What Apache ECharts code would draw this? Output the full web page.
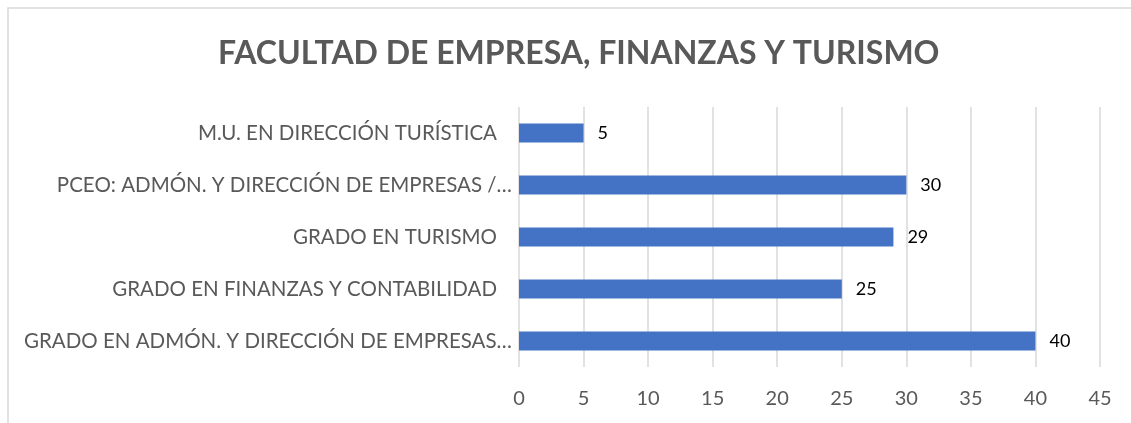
<!DOCTYPE html>
<html>
<head>
<meta charset="utf-8">
<script src="https://cdn.jsdelivr.net/npm/echarts@6/dist/echarts.min.js"></script>
<style>
  html, body { margin: 0; padding: 0; background: #fff; }
  #chart { width: 1131px; height: 423px; }
</style>
</head>
<body>
<div id="chart"></div>
<script>
// categories from bottom to top (as drawn)
var categories = [
  "GRADO EN ADMÓN. Y DIRECCIÓN DE EMPRESAS…",
  "GRADO EN FINANZAS Y CONTABILIDAD",
  "GRADO EN TURISMO",
  "PCEO: ADMÓN. Y DIRECCIÓN DE EMPRESAS /…",
  "M.U. EN DIRECCIÓN TURÍSTICA"
];
var values = [40, 25, 29, 30, 5];
var xTicks = [0, 5, 10, 15, 20, 25, 30, 35, 40, 45];

var font = "Lato";
var chart = echarts.init(document.getElementById("chart"));

var option = {
  animation: false,
  title: {
    text: "FACULTAD DE EMPRESA, FINANZAS Y TURISMO",
    left: 213,
    top: 33,
    textStyle: { fontFamily: font, fontSize: 32, fontWeight: "bold", color: "#595959" }
  },
  graphic: [{
    type: "rect",
    shape: { x: 8, y: 8, width: 1140, height: 430 },
    style: { fill: "none", stroke: "#d9d9d9", lineWidth: 1.5 },
    silent: true
  }],
  grid: { left: 519, right: 31, top: 107, bottom: 56 },
  xAxis: {
    type: "value",
    min: xTicks[0],
    max: xTicks[xTicks.length - 1],
    interval: 5,
    axisLine: { show: false },
    axisTick: { show: false },
    splitLine: { lineStyle: { color: "#d9d9d9", width: 1.5 } },
    axisLabel: { fontFamily: font, fontSize: 20, color: "#595959", margin: 22 }
  },
  yAxis: {
    type: "category",
    data: categories,
    axisLine: { show: false },
    axisTick: { show: false },
    axisLabel: {
      fontFamily: font, fontSize: 20.5, color: "#595959", margin: 7,
      formatter: function (v) {
        return v.indexOf("…") >= 0 ? v : "{p|" + v + "}";
      },
      rich: { p: { fontFamily: font, fontSize: 20.5, color: "#595959", padding: [0, 15, 0, 0] } }
    }
  },
  series: [{
    type: "bar",
    data: values,
    barWidth: 19,
    itemStyle: { color: "#4472C4" },
    label: {
      show: true,
      position: "right",
      distance: 14,
      fontFamily: font,
      fontSize: 18,
      color: "#000"
    }
  }]
};

chart.setOption(option);
</script>
</body>
</html>
